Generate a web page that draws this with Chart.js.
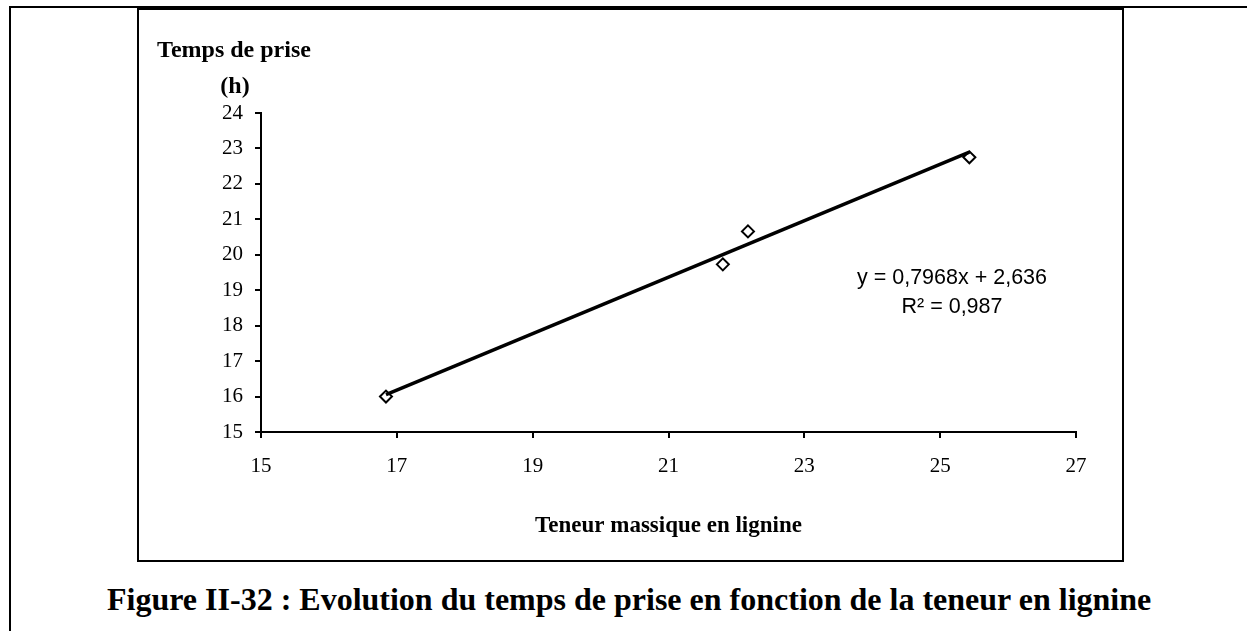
<!DOCTYPE html>
<html>
<head>
<meta charset="utf-8">
<script src="https://cdn.jsdelivr.net/npm/chart.js@4.4.1/dist/chart.umd.min.js"></script>
<style>
  html, body { margin: 0; padding: 0; background: #fff; }
  body { width: 1247px; height: 631px; position: relative; overflow: hidden; }
  .outer { position: absolute; left: 9px; top: 6px; width: 1300px; height: 700px; border-top: 2px solid #000; border-left: 2px solid #000; }
  .frame { position: absolute; left: 137px; top: 8px; width: 983px; height: 550px; border: 2px solid #000; }
  .caption { position: absolute; left: 107px; top: 581px; font: bold 32px "Liberation Serif", "Times New Roman", serif; white-space: nowrap; color: #000; }
</style>
</head>
<body>
<div class="outer"></div>
<div class="frame"><canvas id="chart"></canvas></div>
<div class="caption">Figure II-32 : Evolution du temps de prise en fonction de la teneur en lignine</div>
<script>
// measured points: lignin content vs setting time
const ligninContent = [16.84, 21.80, 22.17, 25.43];
const settingTime = [16.0, 19.73, 20.66, 22.75];

// linear trendline as printed on the chart
const slope = 0.7968;
const intercept = 2.636;
const r2 = 0.987;

const xTicks = [15, 17, 19, 21, 23, 25, 27];
const yTicks = [15, 16, 17, 18, 19, 20, 21, 22, 23, 24];

const points = ligninContent.map((x, i) => ({ x: x, y: settingTime[i] }));
const xMin = Math.min(...ligninContent), xMax = Math.max(...ligninContent);
const trend = [xMin, xMax].map(x => ({ x: x, y: slope * x + intercept }));

const fmt = v => String(v).replace('.', ',');
const serif = '"Liberation Serif", "Times New Roman", serif';
const sans = '"Liberation Sans", Arial, sans-serif';

const labelsPlugin = {
  id: 'labels',
  afterDraw(chart) {
    const ctx = chart.ctx;
    ctx.save();
    ctx.fillStyle = '#000';
    ctx.textAlign = 'center';
    ctx.textBaseline = 'alphabetic';
    ctx.font = 'bold 24px ' + serif;
    ctx.fillText('Temps de prise', 95, 47);
    ctx.fillText('(h)', 96, 83);
    ctx.font = 'bold 23px ' + serif;
    ctx.fillText('Teneur massique en lignine', (chart.chartArea.left + chart.chartArea.right) / 2, 522);
    ctx.font = '21.5px ' + sans;
    ctx.textBaseline = 'middle';
    ctx.fillText('y = ' + fmt(slope) + 'x + ' + fmt(intercept), 813, 268);
    ctx.fillText('R² = ' + fmt(r2), 813, 297);
    ctx.restore();
  }
};

new Chart(document.getElementById('chart'), {
  type: 'scatter',
  data: {
    datasets: [
      {
        data: trend,
        type: 'line',
        borderColor: '#000',
        borderWidth: 3.5,
        pointRadius: 0,
        fill: false
      },
      {
        data: points,
        pointStyle: 'rectRot',
        pointRadius: 6,
        pointBorderWidth: 2,
        pointBackgroundColor: '#fff',
        pointBorderColor: '#000'
      }
    ]
  },
  options: {
    responsive: true,
    maintainAspectRatio: false,
    animation: false,
    layout: { padding: { left: 0, right: 46, top: 103, bottom: 88 } },
    plugins: { legend: { display: false }, tooltip: { enabled: false } },
    scales: {
      x: {
        type: 'linear',
        min: xTicks[0],
        max: xTicks[xTicks.length - 1],
        afterBuildTicks: s => { s.ticks = xTicks.map(v => ({ value: v })); },
        afterFit: s => { s.height = 40; },
        border: { color: '#000', width: 2 },
        grid: { drawOnChartArea: false, color: '#000', tickColor: '#000', tickLength: 6, lineWidth: 2 },
        ticks: { color: '#000', padding: 16, font: { family: serif, size: 21 } }
      },
      y: {
        type: 'linear',
        min: yTicks[0],
        max: yTicks[yTicks.length - 1],
        afterBuildTicks: s => { s.ticks = yTicks.map(v => ({ value: v })); },
        afterFit: s => { s.width = 122; },
        border: { color: '#000', width: 2 },
        grid: { drawOnChartArea: false, color: '#000', tickColor: '#000', tickLength: 6, lineWidth: 2 },
        ticks: { color: '#000', padding: 12, font: { family: serif, size: 21 } }
      }
    }
  },
  plugins: [labelsPlugin]
});
</script>
</body>
</html>
